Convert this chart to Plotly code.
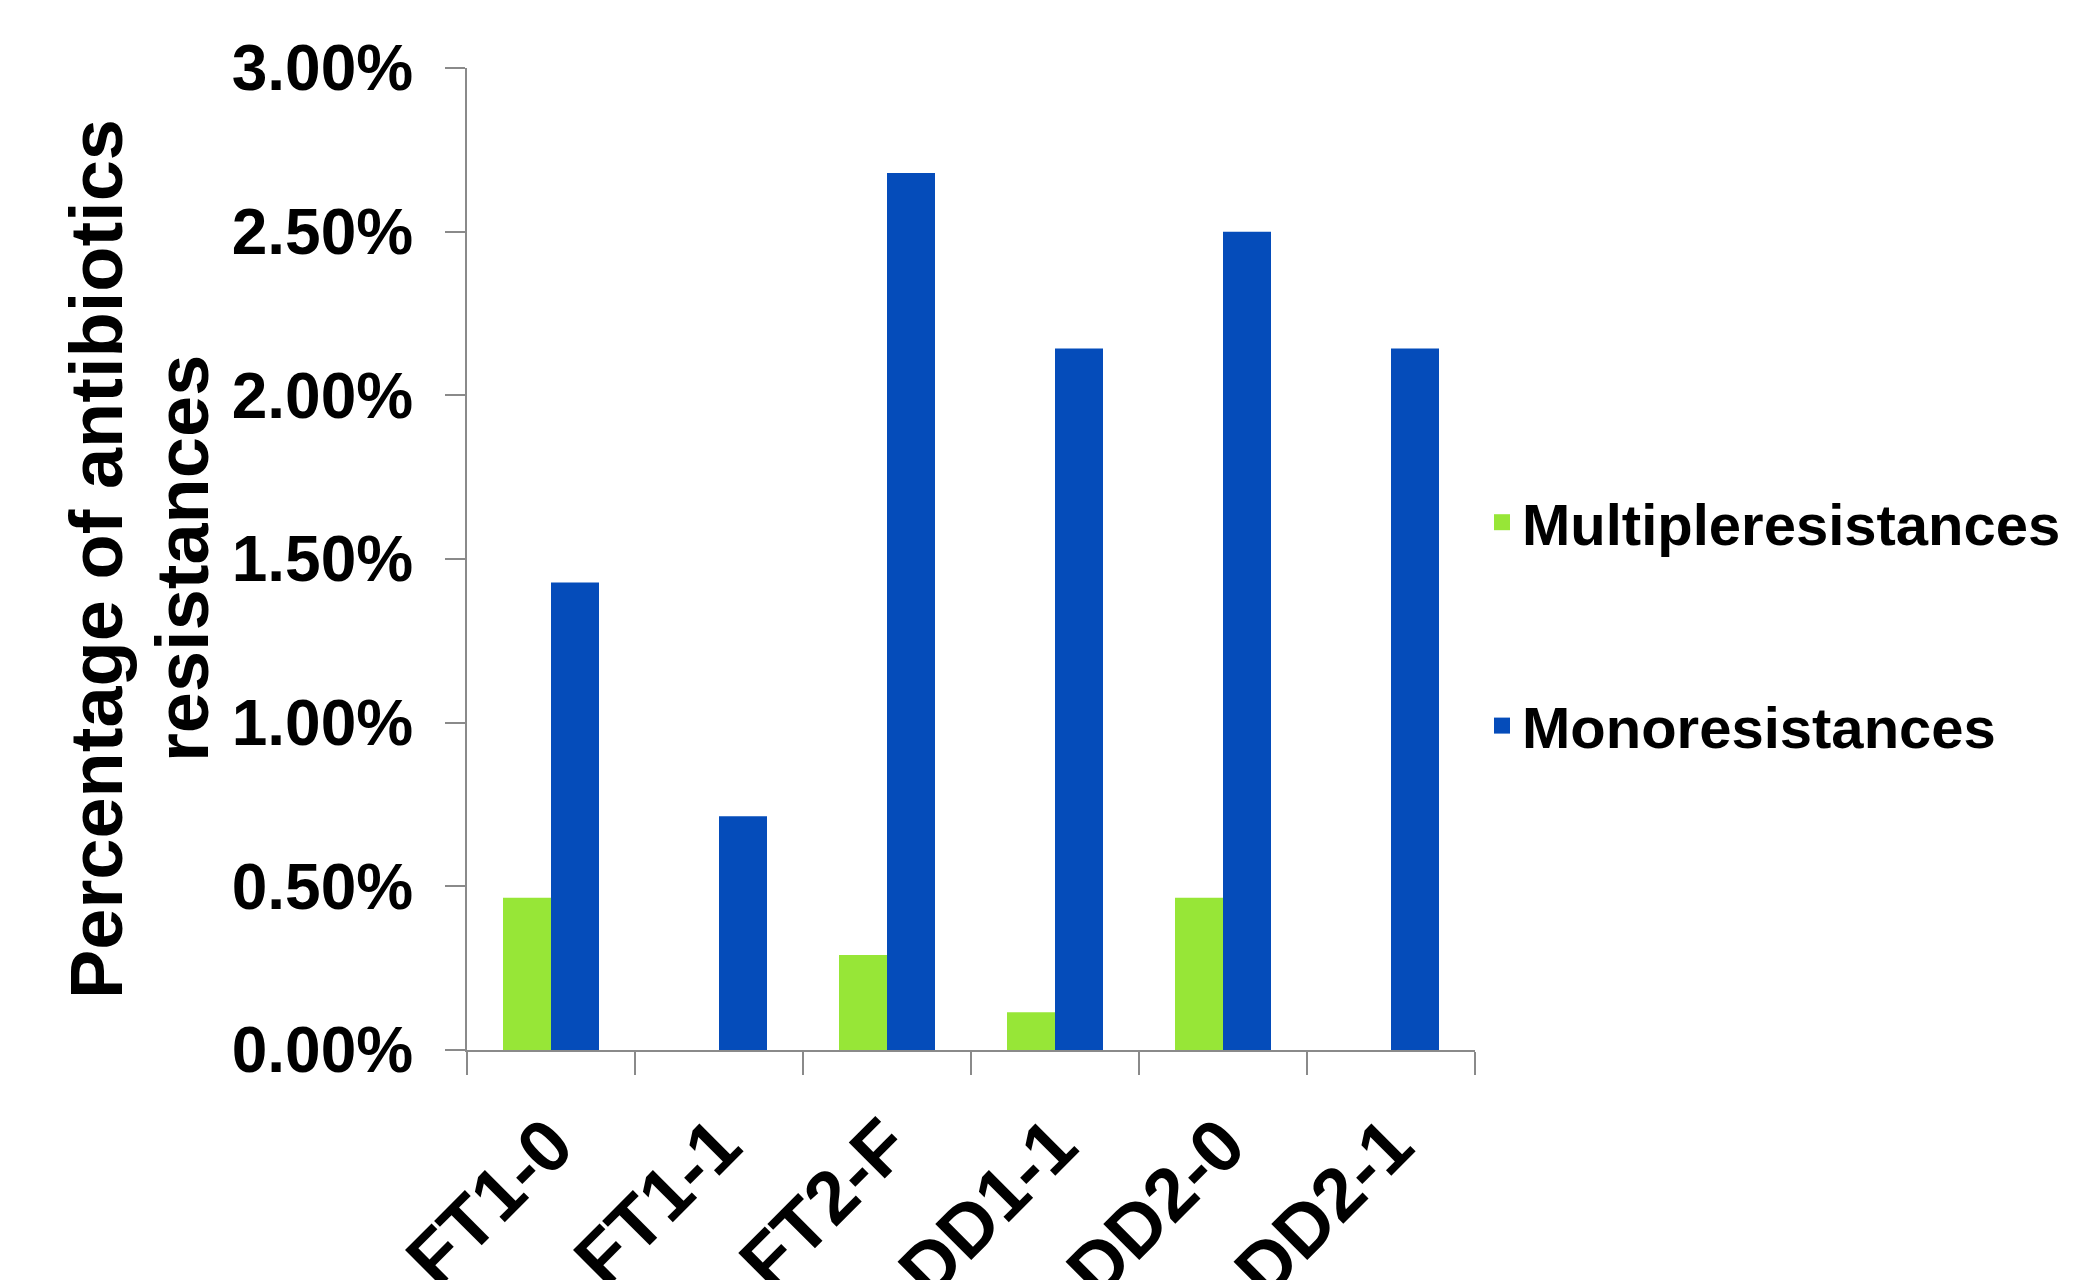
import plotly.graph_objects as go

categories = ["FT1-0", "FT1-1", "FT2-F", "DD1-1", "DD2-0", "DD2-1"]
multiple = [0.00465, 0.0, 0.0029, 0.00115, 0.00465, 0.0]
mono = [0.01428, 0.00714, 0.02679, 0.02143, 0.0250, 0.02143]
series_names = ["Multipleresistances", "Monoresistances"]
y_ticks = [0, 0.005, 0.01, 0.015, 0.02, 0.025, 0.03]
title_lines = ["Percentage of antibiotics", "resistances"]

GREEN = "#97E637"
BLUE = "#054CBA"
AXIS = "#8A8A8A"
FONT = "Liberation Sans, Arial, sans-serif"

fig = go.Figure()
fig.add_trace(go.Bar(x=categories, y=multiple, name=series_names[0],
                     marker=dict(color=GREEN, line=dict(width=0)), showlegend=False))
fig.add_trace(go.Bar(x=categories, y=mono, name=series_names[1],
                     marker=dict(color=BLUE, line=dict(width=0)), showlegend=False))
# legend entries
fig.add_trace(go.Scatter(x=[None], y=[None], mode="markers", name=series_names[0],
                         legendgroup="a",
                         marker=dict(symbol="square", size=16, color=GREEN)))
fig.add_trace(go.Scatter(x=[None], y=[None], mode="markers", name=series_names[1],
                         legendgroup="b",
                         marker=dict(symbol="square", size=16, color=BLUE)))

title_font = dict(size=74, family=FONT, color="black", weight="bold")
for line, shift in zip(title_lines, [-371, -285]):
    fig.add_annotation(text=line, xref="paper", yref="paper", x=0, y=0.5,
                       xshift=shift, xanchor="center", yanchor="middle",
                       textangle=-90, showarrow=False, font=title_font)

fig.update_layout(
    width=2077, height=1280,
    margin=dict(l=467, r=602, t=68, b=230, autoexpand=False),
    paper_bgcolor="white", plot_bgcolor="white",
    barmode="group", bargap=0.4286, bargroupgap=0,
    font=dict(family=FONT, color="black"),
    legend=dict(
        xref="container", yref="container",
        x=1482 / 2077, y=1 - 478 / 1280, xanchor="left", yanchor="top",
        font=dict(size=58, family=FONT, color="black", weight="bold"),
        tracegroupgap=125, bgcolor="rgba(0,0,0,0)", borderwidth=0,
    ),
    xaxis=dict(
        type="category", tickson="boundaries",
        showline=True, linecolor=AXIS, linewidth=2,
        ticks="outside", ticklen=23, tickcolor=AXIS, tickwidth=2,
        tickangle=-45, showgrid=False, zeroline=False, automargin=False,
        ticklabelstandoff=20,
        tickfont=dict(size=74, family=FONT, color="black", weight="bold"),
    ),
    yaxis=dict(
        range=[0, 0.03], tickvals=y_ticks, tickformat=".2%",
        showline=True, linecolor=AXIS, linewidth=2,
        ticks="outside", ticklen=20, tickcolor=AXIS, tickwidth=2,
        showgrid=False, zeroline=False, automargin=False,
        ticklabelstandoff=19,
        tickfont=dict(size=64, family=FONT, color="black", weight="bold"),
    ),
)

fig.write_html("out.html")
